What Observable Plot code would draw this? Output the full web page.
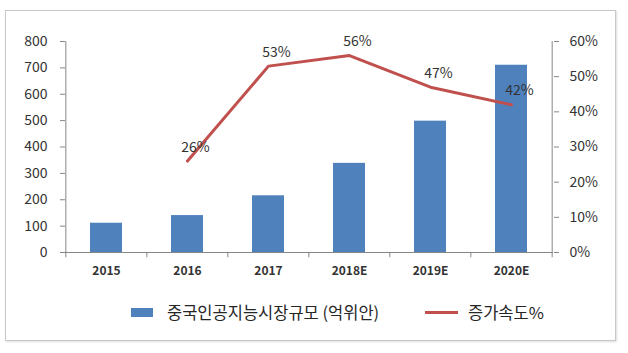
<!DOCTYPE html>
<html><head><meta charset="utf-8">
<script src="https://cdn.jsdelivr.net/npm/d3@7"></script>
<script src="https://cdn.jsdelivr.net/npm/@observablehq/plot@0.6"></script>
<style>
body{margin:0;background:#fff;font-family:"Noto Sans CJK KR","Noto Sans",sans-serif;}
#wrap{position:relative;width:628px;height:353px;overflow:hidden;}
#box{position:absolute;left:5px;top:10px;width:609px;height:329px;border:1px solid #c8c8c8;box-shadow:1px 1px 2px #ddd;}
#chart{position:absolute;left:0;top:0;}
#legend{position:absolute;top:299px;left:0;width:628px;height:26px;font-size:16.5px;color:#262626;}
.sw{position:absolute;}
.lt{position:absolute;top:0;line-height:26px;}
</style></head>
<body><div id="wrap"><div id="box"></div><div id="chart"></div><div id="legend"></div></div>
<script>
const years = ["2015","2016","2017","2018E","2019E","2020E"];
const marketSize = [111, 140, 215, 338, 498, 710];
const growthYears = ["2016","2017","2018E","2019E","2020E"];
const growthPct = [26, 53, 56, 47, 42];
const leftTicks = [0,100,200,300,400,500,600,700,800];
const rightTicks = [0,10,20,30,40,50,60];
const seriesNames = ["중국인공지능시장규모 (억위안)", "증가속도%"];

const W = 628, H = 290, mL = 65, mR = 75, mT = 41, mB = 38;
const yMax = 800, pMax = 60;
const step = (W - mL - mR) / years.length;
const toY = p => p * yMax / pMax;
const bars = years.map((y, i) => ({year: y, v: marketSize[i]}));
const line = growthYears.map((y, i) => ({year: y, p: growthPct[i], v: toY(growthPct[i])}));
const gray = "#868686";

const plot = Plot.plot({
  width: W, height: H, marginLeft: mL, marginRight: mR, marginTop: mT, marginBottom: mB,
  style: {fontFamily: '"Noto Sans CJK KR","Noto Sans",sans-serif', color: "#333", background: "transparent", overflow: "visible"},
  x: {type: "band", domain: years, paddingInner: 0.6, paddingOuter: 0.3, axis: null, label: null},
  y: {domain: [0, yMax], axis: null, label: null},
  marks: [
    Plot.barY(bars, {x: "year", y: "v", fill: "#4F81BD"}),
    Plot.ruleY([0], {stroke: gray, strokeWidth: 1}),
    Plot.ruleX([years[0]], {dx: -step/2, y1: 0, y2: yMax, stroke: gray}),
    Plot.ruleX([years[years.length-1]], {dx: step/2, y1: 0, y2: yMax, stroke: gray}),
    Plot.ruleX(years, {dx: -step/2, y1: 0, y2: -20, stroke: gray}),
    Plot.ruleX([years[years.length-1]], {dx: step/2, y1: 0, y2: -20, stroke: gray}),
    Plot.axisY({anchor: "left", label: null, ticks: leftTicks, tickSize: 5, tickPadding: 13, fontSize: 14, stroke: gray}),
    Plot.axisY({anchor: "right", label: null, ticks: rightTicks.map(toY), tickFormat: v => Math.round(v * pMax / yMax) + "%", tickSize: 5, tickPadding: 11, fontSize: 14, stroke: gray}),
    Plot.axisX({label: null, ticks: years, tickSize: 0, tickPadding: 14, fontSize: 12, fontWeight: "bold"}),
    Plot.lineY(line, {x: "year", y: "v", stroke: "#C0504D", strokeWidth: 3}),
    Plot.text(line, {x: "year", y: "v", text: d => d.p + "%", dx: 8, dy: -14, fontSize: 14, fill: "#333"})
  ]
});
document.getElementById("chart").appendChild(plot);

const lg = document.getElementById("legend");
lg.innerHTML =
  `<div class="sw" style="left:131px;top:9px;width:22px;height:9px;background:#4F81BD"></div>` +
  `<div class="lt" style="left:167px">${seriesNames[0]}</div>` +
  `<div class="sw" style="left:425px;top:12px;width:33px;height:3px;background:#C0504D"></div>` +
  `<div class="lt" style="left:468px">${seriesNames[1]}</div>`;
</script></body></html>
